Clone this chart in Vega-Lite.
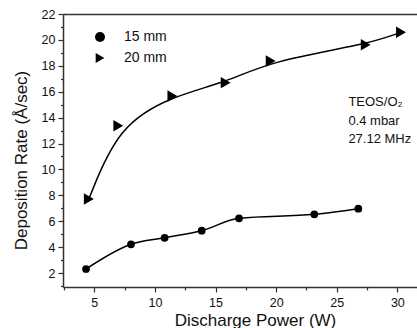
{
  "$schema": "https://vega.github.io/schema/vega-lite/v6.json",
  "width": 354,
  "height": 273,
  "autosize": {"type": "none"},
  "padding": {"left": 63, "top": 14, "right": 0, "bottom": 41},
  "config": {
    "font": "Liberation Sans",
    "view": {"stroke": null},
    "axis": {
      "grid": false,
      "domainColor": "#333",
      "domainWidth": 1.5,
      "tickColor": "#333",
      "tickWidth": 1.2,
      "labelColor": "#111",
      "titleColor": "#111",
      "labelFont": "Liberation Sans",
      "titleFont": "Liberation Sans",
      "labelFontSize": 12.5,
      "titleFontSize": 17,
      "titleFontWeight": "normal"
    },
    "legend": {"labelFont": "Liberation Sans"}
  },
  "datasets": {
    "series": [
      {"series": "15 mm", "power": 4.32, "rate": 2.31},
      {"series": "15 mm", "power": 8.03, "rate": 4.22},
      {"series": "15 mm", "power": 10.8, "rate": 4.72},
      {"series": "15 mm", "power": 13.86, "rate": 5.27},
      {"series": "15 mm", "power": 16.94, "rate": 6.22},
      {"series": "15 mm", "power": 23.15, "rate": 6.53},
      {"series": "15 mm", "power": 26.78, "rate": 6.97},
      {"series": "20 mm", "power": 4.55, "rate": 7.71},
      {"series": "20 mm", "power": 6.98, "rate": 13.37},
      {"series": "20 mm", "power": 11.44, "rate": 15.67},
      {"series": "20 mm", "power": 15.84, "rate": 16.7},
      {"series": "20 mm", "power": 19.55, "rate": 18.37},
      {"series": "20 mm", "power": 27.39, "rate": 19.63},
      {"series": "20 mm", "power": 30.3, "rate": 20.59}
    ],
    "notes": [
      {"label": "TEOS/O₂", "power": 25.96, "rate": 14.9},
      {"label": "0.4 mbar", "power": 25.96, "rate": 13.45},
      {"label": "27.12 MHz", "power": 25.96, "rate": 12.02}
    ]
  },
  "resolve": {"axis": {"x": "independent", "y": "independent"}},
  "layer": [
    {
      "data": {"name": "series"},
      "transform": [{"filter": "datum.series === '15 mm'"}],
      "mark": {"type": "line", "interpolate": "monotone", "color": "black", "strokeWidth": 1.5},
      "encoding": {
        "x": {
          "field": "power", "type": "quantitative",
          "scale": {"domain": [2.42, 31.62], "nice": false, "zero": false},
          "axis": {
            "orient": "bottom", "values": [5, 10, 15, 20, 25, 30], "tickSize": 5,
            "labelPadding": 4, "title": "Discharge Power (W)",
            "titleX": 192, "titleY": 38, "titleBaseline": "alphabetic", "titleAlign": "center"
          }
        },
        "y": {
          "field": "rate", "type": "quantitative",
          "scale": {"domain": [0.92, 22], "nice": false, "zero": false},
          "axis": {
            "orient": "left", "values": [2, 4, 6, 8, 10, 12, 14, 16, 18, 20, 22], "tickSize": 5,
            "labelPadding": 3, "title": "Deposition Rate (Å/sec)",
            "titleX": -37, "titleY": 146, "titleBaseline": "alphabetic", "titleAngle": -90, "titleAlign": "center"
          }
        }
      }
    },
    {
      "data": {"name": "series"},
      "transform": [{"filter": "datum.series === '20 mm'"}],
      "mark": {"type": "line", "interpolate": "basis", "color": "black", "strokeWidth": 1.5},
      "encoding": {
        "x": {
          "field": "power", "type": "quantitative",
          "axis": {
            "orient": "bottom", "values": [2.5, 7.5, 12.5, 17.5, 22.5, 27.5], "tickSize": 3,
            "labels": false, "domain": false, "title": null
          }
        },
        "y": {
          "field": "rate", "type": "quantitative",
          "axis": {
            "orient": "left", "values": [1, 3, 5, 7, 9, 11, 13, 15, 17, 19, 21], "tickSize": 2.5,
            "labels": false, "domain": false, "title": null
          }
        }
      }
    },
    {
      "data": {"name": "series"},
      "mark": {"type": "point", "filled": true, "color": "black", "opacity": 1},
      "encoding": {
        "x": {
          "field": "power", "type": "quantitative",
          "axis": {"orient": "top", "ticks": false, "labels": false, "title": null}
        },
        "y": {"field": "rate", "type": "quantitative", "axis": null},
        "size": {"condition": {"test": "datum.series === '20 mm'", "value": 130}, "value": 60},
        "shape": {
          "field": "series", "type": "nominal",
          "scale": {"domain": ["15 mm", "20 mm"], "range": ["circle", "triangle-right"]},
          "legend": {
            "title": null,
            "orient": "none",
            "legendX": 30,
            "legendY": 16,
            "padding": 0,
            "symbolSize": 100,
            "symbolFillColor": "black",
            "symbolStrokeColor": "black",
            "symbolStrokeWidth": 1.5,
            "labelOffset": 17,
            "labelFontSize": 14,
            "labelColor": "#111",
            "rowPadding": 5
          }
        }
      }
    },
    {
      "data": {"name": "notes"},
      "mark": {"type": "text", "align": "left", "baseline": "alphabetic", "fontSize": 13, "color": "#111", "font": "Liberation Sans"},
      "encoding": {
        "x": {"field": "power", "type": "quantitative", "axis": null},
        "y": {"field": "rate", "type": "quantitative", "axis": null},
        "text": {"field": "label", "type": "nominal"}
      }
    }
  ]
}
